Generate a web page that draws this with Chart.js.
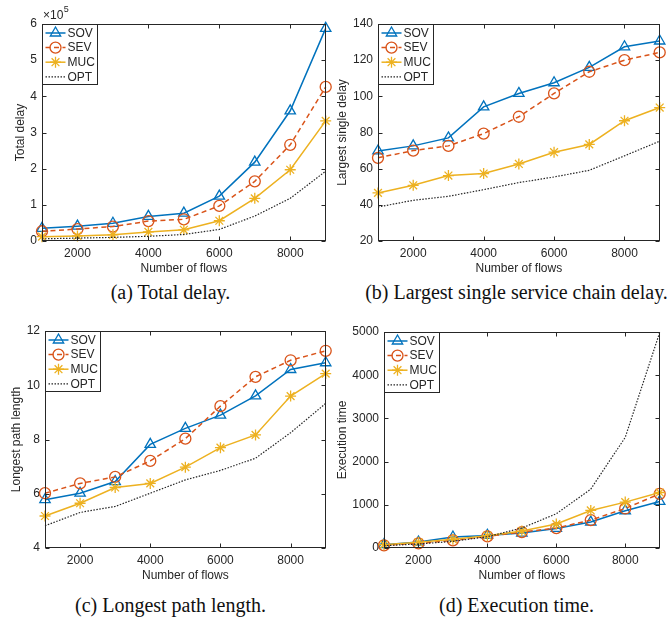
<!DOCTYPE html>
<html>
<head>
<meta charset="utf-8">
<script src="https://cdn.jsdelivr.net/npm/chart.js@4.4.0/dist/chart.umd.min.js"></script>
<style>
  body { margin: 0; background: #fff; width: 667px; height: 621px; position: relative; overflow: hidden; }
  canvas { position: absolute; }
  .cap { position: absolute; width: 333px; text-align: center; white-space: nowrap;
         font-family: "Liberation Serif", "Times New Roman", serif; font-size: 20px; line-height: 22px; color: #111; }
</style>
</head>
<body>
<canvas id="chartA" width="333" height="276" style="left:0;top:0"></canvas>
<canvas id="chartB" width="334" height="276" style="left:333px;top:0"></canvas>
<canvas id="chartC" width="333" height="276" style="left:0;top:307px"></canvas>
<canvas id="chartD" width="334" height="276" style="left:333px;top:307px"></canvas>
<div class="cap" style="left:4px;top:281px">(a) Total delay.</div>
<div class="cap" style="left:350px;top:281px">(b) Largest single service chain delay.</div>
<div class="cap" style="left:4px;top:594px">(c) Longest path length.</div>
<div class="cap" style="left:350px;top:594px">(d) Execution time.</div>
<script>
const flows = [1000, 2000, 3000, 4000, 5000, 6000, 7000, 8000, 9000];
const xTicks = [2000, 4000, 6000, 8000];
const seriesNames = ["SOV", "SEV", "MUC", "OPT"];

// (a) total delay
const totalSOV = [35000, 41000, 49000, 68000, 77000, 124000, 218000, 360000, 588000];
const totalSEV = [27000, 33000, 40000, 55000, 60000, 97000, 165000, 266000, 426000];
const totalMUC = [12000, 14000, 17000, 25000, 31000, 56000, 118000, 197000, 332000];
const totalOPT = [6000, 8000, 10000, 13000, 18000, 32000, 69000, 118000, 193000];

// (b) largest single delay
const singleSOV = [69.8, 72.6, 77, 94.2, 101.6, 107.5, 116, 127.4, 130.6];
const singleSEV = [66, 70, 72.6, 79.4, 88.7, 101.6, 113.6, 120, 124.3];
const singleMUC = [46.6, 50.8, 56.2, 57.3, 62.6, 69.1, 73.4, 86.5, 93.8];
const singleOPT = [38.8, 42.5, 44.7, 48.4, 52.3, 55.4, 59.1, 67.1, 75.2];

// (c) longest path length
const pathSOV = [5.78, 6.02, 6.45, 7.82, 8.41, 8.9, 9.61, 10.58, 10.83];
const pathSEV = [6.02, 6.38, 6.62, 7.21, 8.03, 9.23, 10.31, 10.92, 11.27];
const pathMUC = [5.18, 5.65, 6.23, 6.38, 6.98, 7.7, 8.17, 9.6, 10.43];
const pathOPT = [4.82, 5.31, 5.53, 6.02, 6.51, 6.86, 7.31, 8.25, 9.33];

// (d) execution time
const execSOV = [77, 138, 254, 292, 346, 454, 600, 862, 1077];
const execSEV = [62, 108, 177, 269, 369, 462, 646, 915, 1254];
const execMUC = [77, 131, 200, 285, 392, 554, 869, 1062, 1285];
const execOPT = [54, 92, 154, 262, 462, 792, 1362, 2562, 4990];

const axisColor = "#262626";
const tickFont = { family: "'Liberation Sans', Arial, sans-serif", size: 12 };

const styles = [
  { borderColor: "#0072BD", pointStyle: "triangle", pointRadius: 6, borderWidth: 1.5 },
  { borderColor: "#D95319", pointStyle: "circle", pointRadius: 5.5, borderWidth: 1.5, borderDash: [5, 3.5] },
  { borderColor: "#EDB120", pointStyle: "star", pointRadius: 5.5, borderWidth: 1.5 },
  { borderColor: "#262626", pointStyle: false, pointRadius: 0, borderWidth: 1.2, borderDash: [1.5, 1.5] },
];

function makeChart(id, series, p) {
  const datasets = series.map((arr, i) => ({
    label: seriesNames[i],
    data: flows.map((f, j) => ({ x: f, y: arr[j] })),
    backgroundColor: "rgba(0,0,0,0)",
    pointBorderWidth: 1.3,
    pointBackgroundColor: "rgba(0,0,0,0)",
    tension: 0,
    clip: false,
    order: 4 - i,
    ...styles[i],
  }));

  // MATLAB style box, inward ticks, legend inside the axes
  const boxPlugin = {
    id: "box" + id,
    afterDatasetsDraw(chart) {
      const { ctx, chartArea: a, scales: { x, y } } = chart;
      const L = Math.round(a.left) + 0.5, R = Math.round(a.right) - 0.5;
      const T = Math.round(a.top) + 0.5, B = Math.round(a.bottom) - 0.5;
      ctx.save();
      ctx.strokeStyle = axisColor;
      ctx.lineWidth = 1;
      ctx.setLineDash([]);
      ctx.strokeRect(L, T, R - L, B - T);
      ctx.beginPath();
      xTicks.forEach(v => {
        const px = Math.round(x.getPixelForValue(v)) + 0.5;
        ctx.moveTo(px, B); ctx.lineTo(px, B - 4);
        ctx.moveTo(px, T); ctx.lineTo(px, T + 4);
      });
      y.ticks.forEach(t => {
        const py = Math.round(y.getPixelForValue(t.value)) + 0.5;
        ctx.moveTo(L, py); ctx.lineTo(L + 4, py);
        ctx.moveTo(R, py); ctx.lineTo(R - 4, py);
      });
      ctx.stroke();

      // legend
      const lx = L, ly = T, lw = 55, lh = 60;
      ctx.fillStyle = "#fff";
      ctx.fillRect(lx, ly, lw, lh);
      ctx.strokeRect(lx, ly, lw, lh);
      ctx.font = "12px 'Liberation Sans', Arial, sans-serif";
      ctx.textBaseline = "middle";
      chart.data.datasets.forEach((ds, i) => {
        const ry = ly + 8.5 + i * 14.6;
        ctx.strokeStyle = ds.borderColor;
        ctx.lineWidth = ds.borderWidth;
        ctx.setLineDash(ds.borderDash || []);
        ctx.beginPath();
        ctx.moveTo(lx + 3, ry); ctx.lineTo(lx + 23, ry);
        ctx.stroke();
        ctx.setLineDash([]);
        if (ds.pointStyle) {
          ctx.fillStyle = "rgba(0,0,0,0)";
          ctx.lineWidth = ds.pointBorderWidth;
          Chart.helpers.drawPoint(ctx, { pointStyle: ds.pointStyle, radius: ds.pointRadius, rotation: 0, borderWidth: ds.pointBorderWidth }, lx + 13, ry);
        }
        ctx.fillStyle = axisColor;
        ctx.fillText(ds.label, lx + 25, ry + 0.5);
      });

      if (p.exponent) {
        ctx.fillStyle = axisColor;
        ctx.textBaseline = "alphabetic";
        ctx.font = "12px 'Liberation Sans', Arial, sans-serif";
        const base = "\u00d710";
        ctx.fillText(base, a.left + 1, a.top - 5);
        const w = ctx.measureText(base).width;
        ctx.font = "9px 'Liberation Sans', Arial, sans-serif";
        ctx.fillText(p.exponent, a.left + 1.5 + w, a.top - 12);
      }
      ctx.restore();
    },
  };

  return new Chart(document.getElementById(id), {
    type: "line",
    data: { datasets },
    plugins: [boxPlugin],
    options: {
      responsive: false,
      animation: false,
      devicePixelRatio: 1,
      layout: { padding: { left: 0, right: p.right, top: p.top, bottom: 0 } },
      plugins: { legend: { display: false }, tooltip: { enabled: false } },
      scales: {
        x: {
          type: "linear",
          min: 1000,
          max: 9000,
          afterBuildTicks: s => { s.ticks = xTicks.map(v => ({ value: v })); },
          afterFit: s => { s.height = 35; },
          grid: { display: false, drawTicks: false },
          border: { display: false },
          ticks: { color: axisColor, font: tickFont, padding: 5, maxRotation: 0, callback: v => String(v) },
          title: { display: true, text: "Number of flows", color: axisColor, font: tickFont, padding: { top: 0, bottom: 0 } },
        },
        y: {
          min: p.min,
          max: p.max,
          afterFit: s => { s.width = p.yWidth; },
          grid: { display: false, drawTicks: false },
          border: { display: false },
          ticks: { stepSize: p.step, color: axisColor, font: tickFont, padding: 5, callback: p.fmt || (v => String(v)) },
          title: { display: true, text: p.title, color: axisColor, font: tickFont, padding: { top: p.titlePad, bottom: 0 } },
        },
      },
    },
  });
}

makeChart("chartA", [totalSOV, totalSEV, totalMUC, totalOPT],
  { min: 0, max: 600000, step: 100000, fmt: v => String(v / 100000), title: "Total delay", yWidth: 42, right: 6, top: 24, titlePad: 13, exponent: "5" });
makeChart("chartB", [singleSOV, singleSEV, singleMUC, singleOPT],
  { min: 20, max: 140, step: 20, title: "Largest single delay", yWidth: 45, right: 5, top: 24, titlePad: 2 });
makeChart("chartC", [pathSOV, pathSEV, pathMUC, pathOPT],
  { min: 4, max: 12, step: 2, title: "Longest path length", yWidth: 45, right: 6, top: 24, titlePad: 9 });
makeChart("chartD", [execSOV, execSEV, execMUC, execOPT],
  { min: 0, max: 5000, step: 1000, title: "Execution time", yWidth: 51, right: 3, top: 25, titlePad: 2 });
</script>
</body>
</html>
